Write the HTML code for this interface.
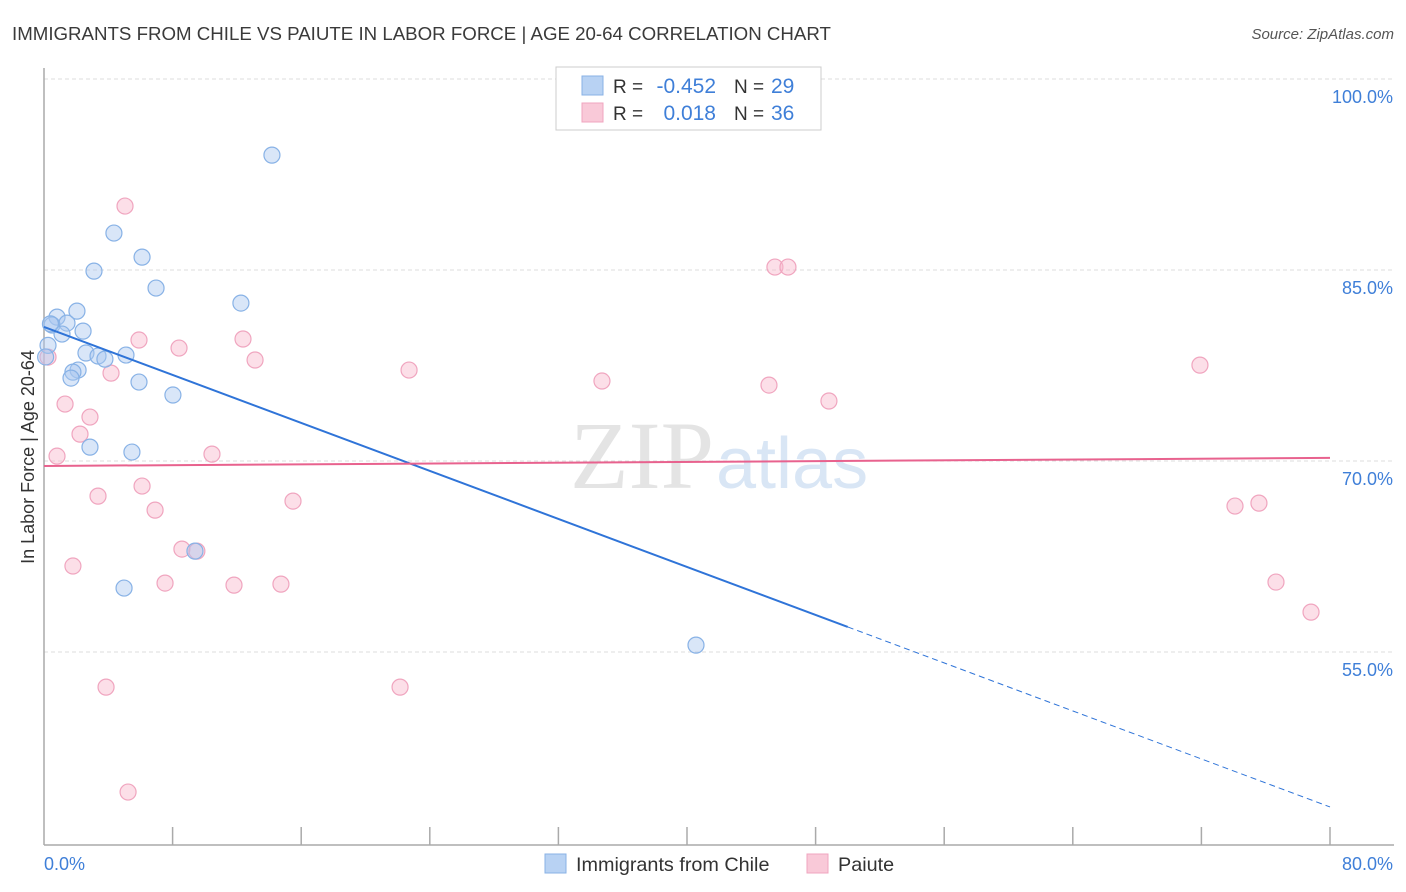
<!DOCTYPE html>
<html><head><meta charset="utf-8">
<style>
body{margin:0;background:#fff;font-family:"Liberation Sans",sans-serif;}
#wrap{position:relative;width:1406px;height:892px;overflow:hidden;}
</style></head>
<body>
<div id="wrap">
<svg id="chart" width="1406" height="892"></svg>
</div>
<script>
const blueX=[14.18,4.35,6.10,3.11,6.97,12.25,2.05,0.81,0.5,1.43,1.12,2.43,0.25,2.61,3.36,3.79,5.10,2.12,1.80,1.68,5.91,8.02,2.86,5.47,9.39,4.98,40.56,0.4,0.1];
const blueY=[94.02,87.90,86.01,84.91,83.58,82.40,81.77,81.30,80.68,80.83,79.97,80.20,79.08,78.48,78.24,78.00,78.32,77.14,76.98,76.51,76.20,75.18,71.09,70.70,62.92,60.02,55.54,80.77,78.17];
const pinkX=[5.04,45.47,46.28,5.91,12.38,8.40,0.25,13.13,22.71,4.17,71.91,34.71,45.10,48.83,1.31,2.86,2.24,0.81,10.45,6.10,3.36,15.49,6.91,74.09,75.58,8.58,9.51,1.80,7.53,11.82,14.74,76.64,78.82,3.86,22.15,5.23];
const pinkY=[90.02,85.23,85.23,79.50,79.58,78.87,78.16,77.93,77.14,76.90,77.53,76.28,75.96,74.71,74.47,73.45,72.11,70.38,70.54,68.03,67.24,66.85,66.14,66.46,66.69,63.08,62.92,61.75,60.41,60.25,60.33,60.49,58.13,52.24,52.24,44.00];
const blueTrend=[80.53,42.83];
const pinkTrend=[69.61,70.24];
const yTicks=[100,85,70,55];
const yTickLabels=["100.0%","85.0%","70.0%","55.0%"];

const NS="http://www.w3.org/2000/svg";
const svg=document.getElementById('chart');
const X0=44,X1=1330;
function xs(v){return X0+v*(X1-X0)/80;}
function ys(v){return 79+(100-v)*12.733;}
function el(t,a,p){const e=document.createElementNS(NS,t);for(const k in a)e.setAttribute(k,a[k]);(p||svg).appendChild(e);return e;}

let t=el('text',{x:12,y:40,'font-size':18.7,fill:'#3a3a3a'});t.textContent='IMMIGRANTS FROM CHILE VS PAIUTE IN LABOR FORCE | AGE 20-64 CORRELATION CHART';


t=el('text',{x:1394,y:39,'font-size':15,fill:'#555','font-style':'italic','text-anchor':'end'});t.textContent='Source: ZipAtlas.com';



t=el('text',{x:714,y:488,'font-size':96,fill:'#e4e4e4','text-anchor':'end','font-family':'Liberation Serif,serif'});t.textContent='ZIP';


t=el('text',{x:716,y:488,'font-size':72,fill:'#d9e6f5'});t.textContent='atlas';



yTicks.forEach((v,i)=>{
 const g=el('line',{x1:X0,x2:1394,y1:ys(v),y2:ys(v),stroke:'#dcdcdc','stroke-dasharray':'4,3'});
 
 
 const l=el('text',{x:1393,y:ys(v)+24,'font-size':18,fill:'#3f7fd8','text-anchor':'end'});l.textContent=yTickLabels[i];
 
 
});
let a=el('line',{x1:X0,x2:X0,y1:68,y2:845,stroke:'#aaa','stroke-width':1.5});


a=el('line',{x1:X0,x2:1394,y1:845,y2:845,stroke:'#aaa','stroke-width':1.5});


for(let i=1;i<=10;i++){
 const tk=el('line',{x1:xs(i*8),x2:xs(i*8),y1:827,y2:845,stroke:'#aaa','stroke-width':1.5});
 
 
}
t=el('text',{x:44,y:870,'font-size':18,fill:'#3f7fd8'});t.textContent='0.0%';


t=el('text',{x:1393,y:870,'font-size':18,fill:'#3f7fd8','text-anchor':'end'});t.textContent='80.0%';


t=el('text',{x:34,y:457,'font-size':18,fill:'#333','text-anchor':'middle',transform:'rotate(-90 34 457)'});t.textContent='In Labor Force | Age 20-64';



pinkX.forEach((x,i)=>{
 const c=el('circle',{cx:xs(x),cy:ys(pinkY[i]),r:8,fill:'rgba(248,185,205,0.45)',stroke:'#f0a5bf','stroke-width':1.2});
 
 
});
blueX.forEach((x,i)=>{
 const c=el('circle',{cx:xs(x),cy:ys(blueY[i]),r:8,fill:'rgba(170,200,240,0.45)',stroke:'#88b2e6','stroke-width':1.2});
 
 
});

function ty(tr,x){return tr[0]+(tr[1]-tr[0])*x/80;}
let ln=el('line',{x1:xs(0),y1:ys(ty(blueTrend,0)),x2:xs(50),y2:ys(ty(blueTrend,50)),stroke:'#2f74d8','stroke-width':2});


ln=el('line',{x1:xs(50),y1:ys(ty(blueTrend,50)),x2:xs(80),y2:ys(ty(blueTrend,80)),stroke:'#2f74d8','stroke-width':1,'stroke-dasharray':'6,4'});


ln=el('line',{x1:xs(0),y1:ys(ty(pinkTrend,0)),x2:xs(80),y2:ys(ty(pinkTrend,80)),stroke:'#e8628e','stroke-width':2});



const lg=el('g',{});


el('rect',{x:556,y:67,width:265,height:63,fill:'#fff',stroke:'#ccc'},lg);
el('rect',{x:582,y:76,width:21,height:19,fill:'#b8d2f3',stroke:'#88b2e6'},lg);
el('rect',{x:582,y:103,width:21,height:19,fill:'#f9c9d8',stroke:'#f0a5bf'},lg);
[['R = ','-0.452','29',93],['R = ','0.018','36',120]].forEach(r=>{
 let a=el('text',{x:613,y:r[3],'font-size':19,fill:'#333'},lg);a.textContent=r[0];
 a=el('text',{x:716,y:r[3],'font-size':21,fill:'#3f7fd8','text-anchor':'end'},lg);a.textContent=r[1];
 a=el('text',{x:734,y:r[3],'font-size':19,fill:'#333'},lg);a.textContent='N = ';
 a=el('text',{x:771,y:r[3],'font-size':21,fill:'#3f7fd8'},lg);a.textContent=r[2];
});

const bl=el('g',{});


el('rect',{x:545,y:854,width:21,height:19,fill:'#b8d2f3',stroke:'#88b2e6'},bl);
t=el('text',{x:576,y:871,'font-size':19.8,fill:'#333'},bl);t.textContent='Immigrants from Chile';
el('rect',{x:807,y:854,width:21,height:19,fill:'#f9c9d8',stroke:'#f0a5bf'},bl);
t=el('text',{x:838,y:871,'font-size':19.8,fill:'#333'},bl);t.textContent='Paiute';
</script>
</body></html>
